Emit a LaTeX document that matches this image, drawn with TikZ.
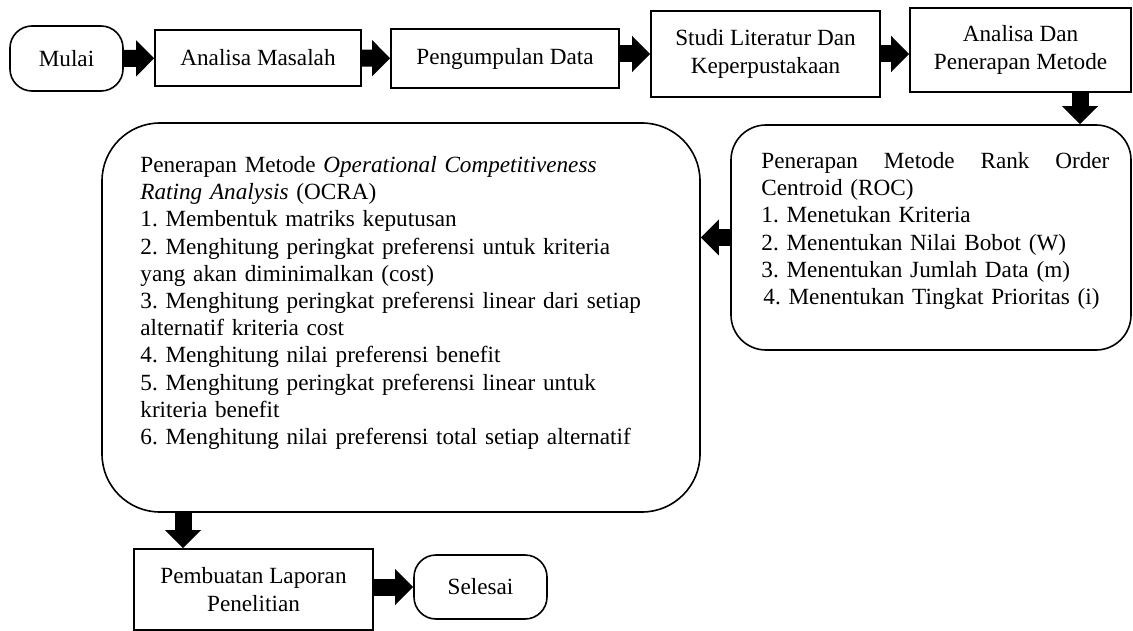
\documentclass[tikz,border=0pt]{standalone}
\usepackage{fontspec}
\setmainfont{Liberation Serif}
\usepackage{tikz}
\usetikzlibrary{positioning, arrows.meta}
\frenchspacing
\tikzstyle{flowChart} = [x = 1pt, y = -1pt, font=\fontsize{23.2}{27.2}\selectfont]
\tikzstyle{stepBox} = [draw, line width=1.6pt, align=center, inner sep=0pt]
\tikzstyle{terminalBox} = [stepBox, rounded corners=22pt]
\tikzstyle{methodBox} = [draw, line width=1.6pt, inner sep=0pt]
\tikzstyle{methodText} = [inner sep=0pt, align=left]
\tikzstyle{blockArrow} = [line width=17pt, -{Triangle[length=18pt, width=35pt]}]
\newcommand{\flowArrow}[2]{\draw [blockArrow] (#1) -- (#2);}

\begin{document}
\begin{tikzpicture}[flowChart]
  \useasboundingbox (0,0) rectangle (1133,631);

  % top row
  \node [terminalBox, minimum width=113pt, minimum height=65pt] (mulai) at (66.5,58.5) {Mulai};
  \node [stepBox, minimum width=206pt, minimum height=56pt] (masalah) at (258,58) {Analisa Masalah};
  \node [stepBox, minimum width=228pt, minimum height=59pt] (data) at (505,58.5) {Pengumpulan Data};
  \node [stepBox, minimum width=229pt, minimum height=86pt] (literatur) at (765.5,54) {Studi Literatur Dan\\Keperpustakaan};
  \node [stepBox, minimum width=221pt, minimum height=84pt] (analisaDan) at (1020.5,50) {Analisa Dan\\Penerapan Metode};

  % ROC
  \node [methodBox, rounded corners=35pt, minimum width=400pt, minimum height=225pt] (roc) at (931,237.5) {};
  \node [methodText, text width=348pt, below right=28pt and 31pt of roc.north west] (rocText)
    {Penerapan\hfill Metode\hfill Rank\hfill Order\\
     Centroid (ROC)\\
     1. Menetukan Kriteria\\
     2. Menentukan Nilai Bobot (W)\\
     3. Menentukan Jumlah Data (m)\\
     \hspace*{2pt}4. Menentukan Tingkat Prioritas (i)};

  % OCRA
  \node [methodBox, rounded corners=58pt, minimum width=598pt, minimum height=389pt] (ocra) at (401,317.5) {};
  \node [methodText, text width=570pt, below right=34pt and 39pt of ocra.north west] (ocraText)
    {Penerapan Metode \textit{Operational Competitiveness}\\
     \textit{Rating Analysis} (OCRA)\\
     1. Membentuk matriks keputusan\\
     2. Menghitung peringkat preferensi untuk kriteria\\
     yang akan diminimalkan (cost)\\
     3. Menghitung peringkat preferensi linear dari setiap\\
     alternatif kriteria cost\\
     4. Menghitung nilai preferensi benefit\\
     5. Menghitung peringkat preferensi linear untuk\\
     kriteria benefit\\
     6. Menghitung nilai preferensi total setiap alternatif};

  % bottom row
  \node [stepBox, minimum width=239pt, minimum height=81pt] (laporan) at (253.5,589.5) {Pembuatan Laporan\\Penelitian};
  \node [terminalBox, minimum width=133pt, minimum height=64pt] (selesai) at (480.5,587) {Selesai};

  % arrows
  \coordinate (rocIn) at (1080,0);
  \coordinate (laporanIn) at (183,0);
  \flowArrow{mulai}{masalah}
  \flowArrow{masalah}{data}
  \flowArrow{data.east |- literatur.west}{literatur.west}
  \flowArrow{literatur.east}{literatur.east -| analisaDan.west}
  \flowArrow{analisaDan.south -| rocIn}{roc.north -| rocIn}
  \flowArrow{roc.west}{roc.west -| ocra.east}
  \flowArrow{ocra.south -| laporanIn}{laporan.north -| laporanIn}
  \flowArrow{laporan.east |- selesai.west}{selesai.west}
\end{tikzpicture}
\end{document}
